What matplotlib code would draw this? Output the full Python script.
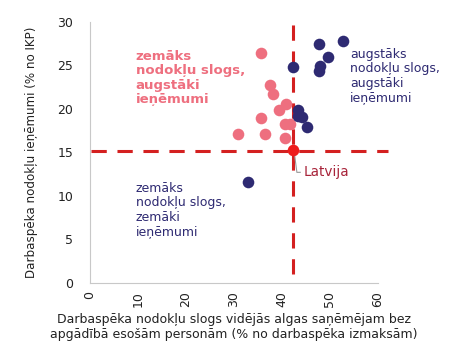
import matplotlib
matplotlib.use("Agg")
import matplotlib.pyplot as plt

plt.rcParams['font.family'] = ['DejaVu Sans']

pink_x = [35.7, 37.6, 38.1, 40.9, 39.3, 35.7, 40.7, 41.7, 30.8, 36.5, 40.7]
pink_y = [26.4, 22.7, 21.7, 20.6, 19.9, 18.9, 18.2, 18.2, 17.1, 17.1, 16.6]
navy_x = [52.8, 47.8, 49.5, 48.0, 47.7, 42.3, 43.4, 43.3, 44.1, 45.2, 32.9]
navy_y = [27.8, 27.5, 26.0, 24.9, 24.4, 24.8, 19.9, 19.2, 19.1, 17.9, 11.6]
latvia_x = 42.3
latvia_y = 15.3
avg_x = 42.3
avg_y = 15.1
xticks = [0, 10, 20, 30, 40, 50, 60]
yticks = [0, 5, 10, 15, 20, 25, 30]

PINK = '#ee6f7f'
NAVY = '#2e2a72'
RED = '#d42020'
TXT_RED = '#a8243a'

fig = plt.figure(figsize=(4.5, 3.47), dpi=100)
ax = fig.add_axes([0.2, 0.185, 0.64, 0.752])

ax.scatter(pink_x, pink_y, s=70, color=PINK, zorder=3, linewidths=0)
ax.scatter(navy_x, navy_y, s=70, color=NAVY, zorder=3, linewidths=0)
ax.plot([avg_x, avg_x], [1.0, 30.8], ls=(0, (5, 3.5)), color=RED, lw=2.2, clip_on=False, zorder=2)
ax.plot([0.3, 62.0], [avg_y, avg_y], ls=(0, (5, 3.5)), color=RED, lw=2.2, clip_on=False, zorder=2)
ax.scatter([latvia_x], [latvia_y], s=70, color='#ee1c1c', zorder=4, linewidths=0)
ax.plot([latvia_x + 0.3, latvia_x + 0.8, latvia_x + 1.5], [latvia_y - 0.5, latvia_y - 2.6, latvia_y - 2.6],
        color='#999999', lw=0.8, zorder=3)
ax.text(latvia_x + 2.2, latvia_y - 2.6, 'Latvija', color=TXT_RED, fontsize=9.8, va='center', ha='left')

ax.text(9.5, 26.8, 'zemāks\nnodokļu slogs,\naugstāki\nieņēmumi', color=PINK, fontsize=9.5,
        fontweight='bold', va='top', ha='left', linespacing=1.15)
ax.text(54.2, 27.0, 'augstāks\nnodokļu slogs,\naugstāki\nieņēmumi', color=NAVY, fontsize=9,
        va='top', ha='left', linespacing=1.15)
ax.text(9.5, 11.6, 'zemāks\nnodokļu slogs,\nzemāki\nieņēmumi', color=NAVY, fontsize=9,
        va='top', ha='left', linespacing=1.15)

ax.set_xlim(0, 60)
ax.set_ylim(0, 30)
ax.set_xticks(xticks)
ax.set_yticks(yticks)
ax.set_xticklabels([str(t) for t in xticks], rotation=90)
for s in ['top', 'right']:
    ax.spines[s].set_visible(False)
for s in ['left', 'bottom']:
    ax.spines[s].set_color('#c8c8c8')
ax.tick_params(axis='x', length=0, labelsize=9, colors='#222222', pad=6)
ax.tick_params(axis='y', length=0, labelsize=9, colors='#222222', pad=12)
ax.set_xlabel('Darbaspēka nodokļu slogs vidējās algas saņēmējam bez\napgādībā esošām personām (% no darbaspēka izmaksām)',
              fontsize=9, color='#222222', labelpad=4)
ax.set_ylabel('Darbaspēka nodokļu ieņēmumi (% no IKP)', fontsize=8.6, color='#222222', labelpad=14)

fig.savefig('out.png', dpi=100)
